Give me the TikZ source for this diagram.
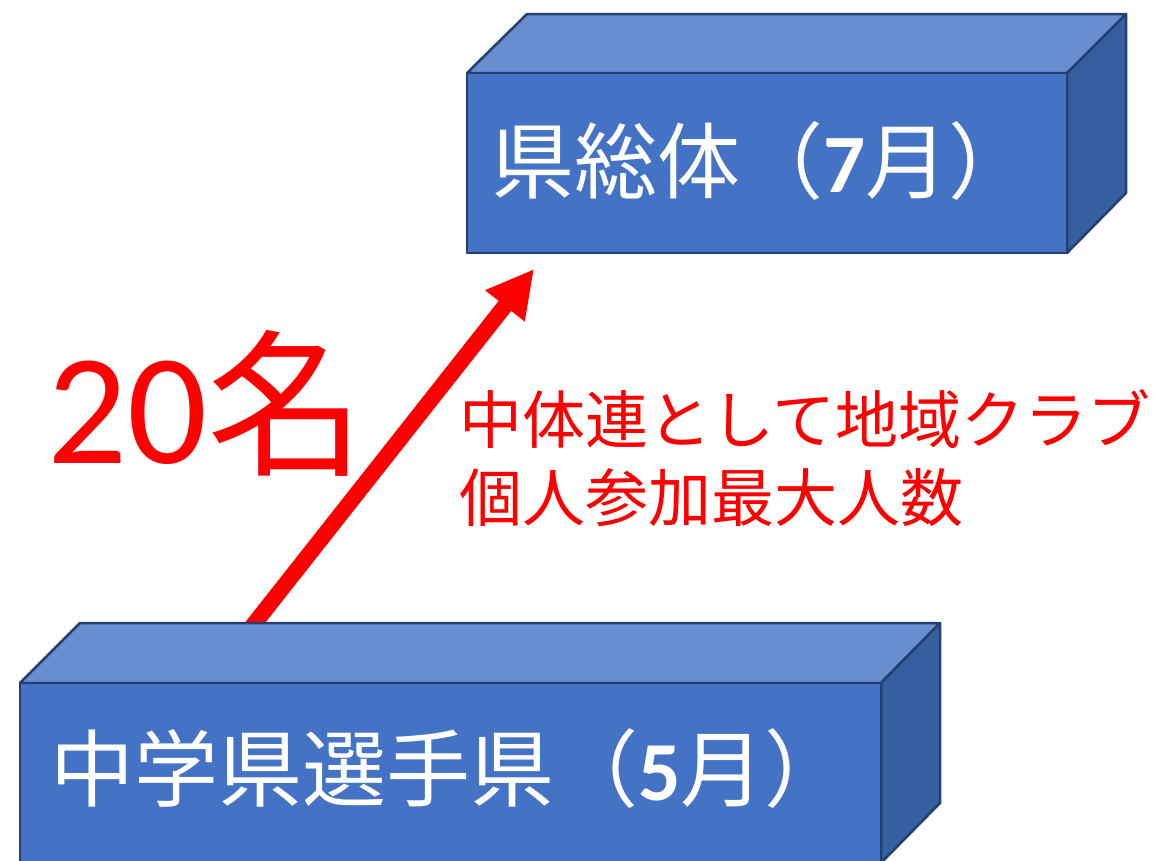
\documentclass[tikz,border=0pt]{standalone}
\usepackage{fontspec}
\setmainfont{Carlito}
\newfontfamily\cjk{Noto Sans CJK JP}
\usetikzlibrary{arrows.meta}
\definecolor{boxfront}{HTML}{4472C4}
\definecolor{boxtop}{HTML}{698ED0}
\definecolor{boxside}{HTML}{365F9F}
\definecolor{boxedge}{HTML}{23406E}
\definecolor{myred}{HTML}{FF0000}
\tikzset{
  face/.style={draw=boxedge, line width=2.5pt, line join=round},
  boxtext/.style={text=white, inner sep=0pt, anchor=base west},
  redtext/.style={text=myred, inner sep=0pt, anchor=base west},
  bigarrow/.style={draw=myred, line width=16pt, -{Triangle[length=47pt,width=47pt]}}
}
\begin{document}
\begin{tikzpicture}[x=1pt,y=-1pt]
\useasboundingbox (0,0) rectangle (1166,860);
\clip (0,0) rectangle (1166,860);
% arrow (drawn first so the bottom box covers its tail)
\coordinate (tail) at (247.7,632);
\coordinate (tip) at (534,269);
\draw[bigarrow] (tail) -- (tip);
% top box
\path[face, fill=boxtop] (467,73) -- (527,14) -- (1126,14) -- (1067,73) -- cycle;
\path[face, fill=boxside] (1067,73) -- (1126,14) -- (1126,193) -- (1067,253) -- cycle;
\path[face, fill=boxfront] (467,73) rectangle (1067,253);
% bottom box
\path[face, fill=boxtop] (20,683) -- (80,623) -- (940,623) -- (881,683) -- cycle;
\path[face, fill=boxside] (881,683) -- (940,623) -- (940,803) -- (881,863) -- cycle;
\path[face, fill=boxfront] (20,683) rectangle (881,863);
% texts
\node[boxtext, font=\fontsize{83}{98}\selectfont] (top) at (491,192) {\cjk 県総体（\normalfont\bfseries 7\cjk\mdseries 月）};
\node[boxtext, font=\fontsize{84}{100}\selectfont] (bottom) at (50,800) {\cjk 中学県選手県（\normalfont\bfseries 5\cjk\mdseries 月）};
\node[redtext, font=\fontsize{158}{190}\selectfont] (count) at (47,463) {20{\cjk 名}};
\node[redtext, font=\cjk\fontsize{63}{78}\selectfont] (note1) at (459,443) {中体連として地域クラブ};
\node[redtext, font=\cjk\fontsize{63}{78}\selectfont] (note2) at (459,521) {個人参加最大人数};
\end{tikzpicture}
\end{document}
